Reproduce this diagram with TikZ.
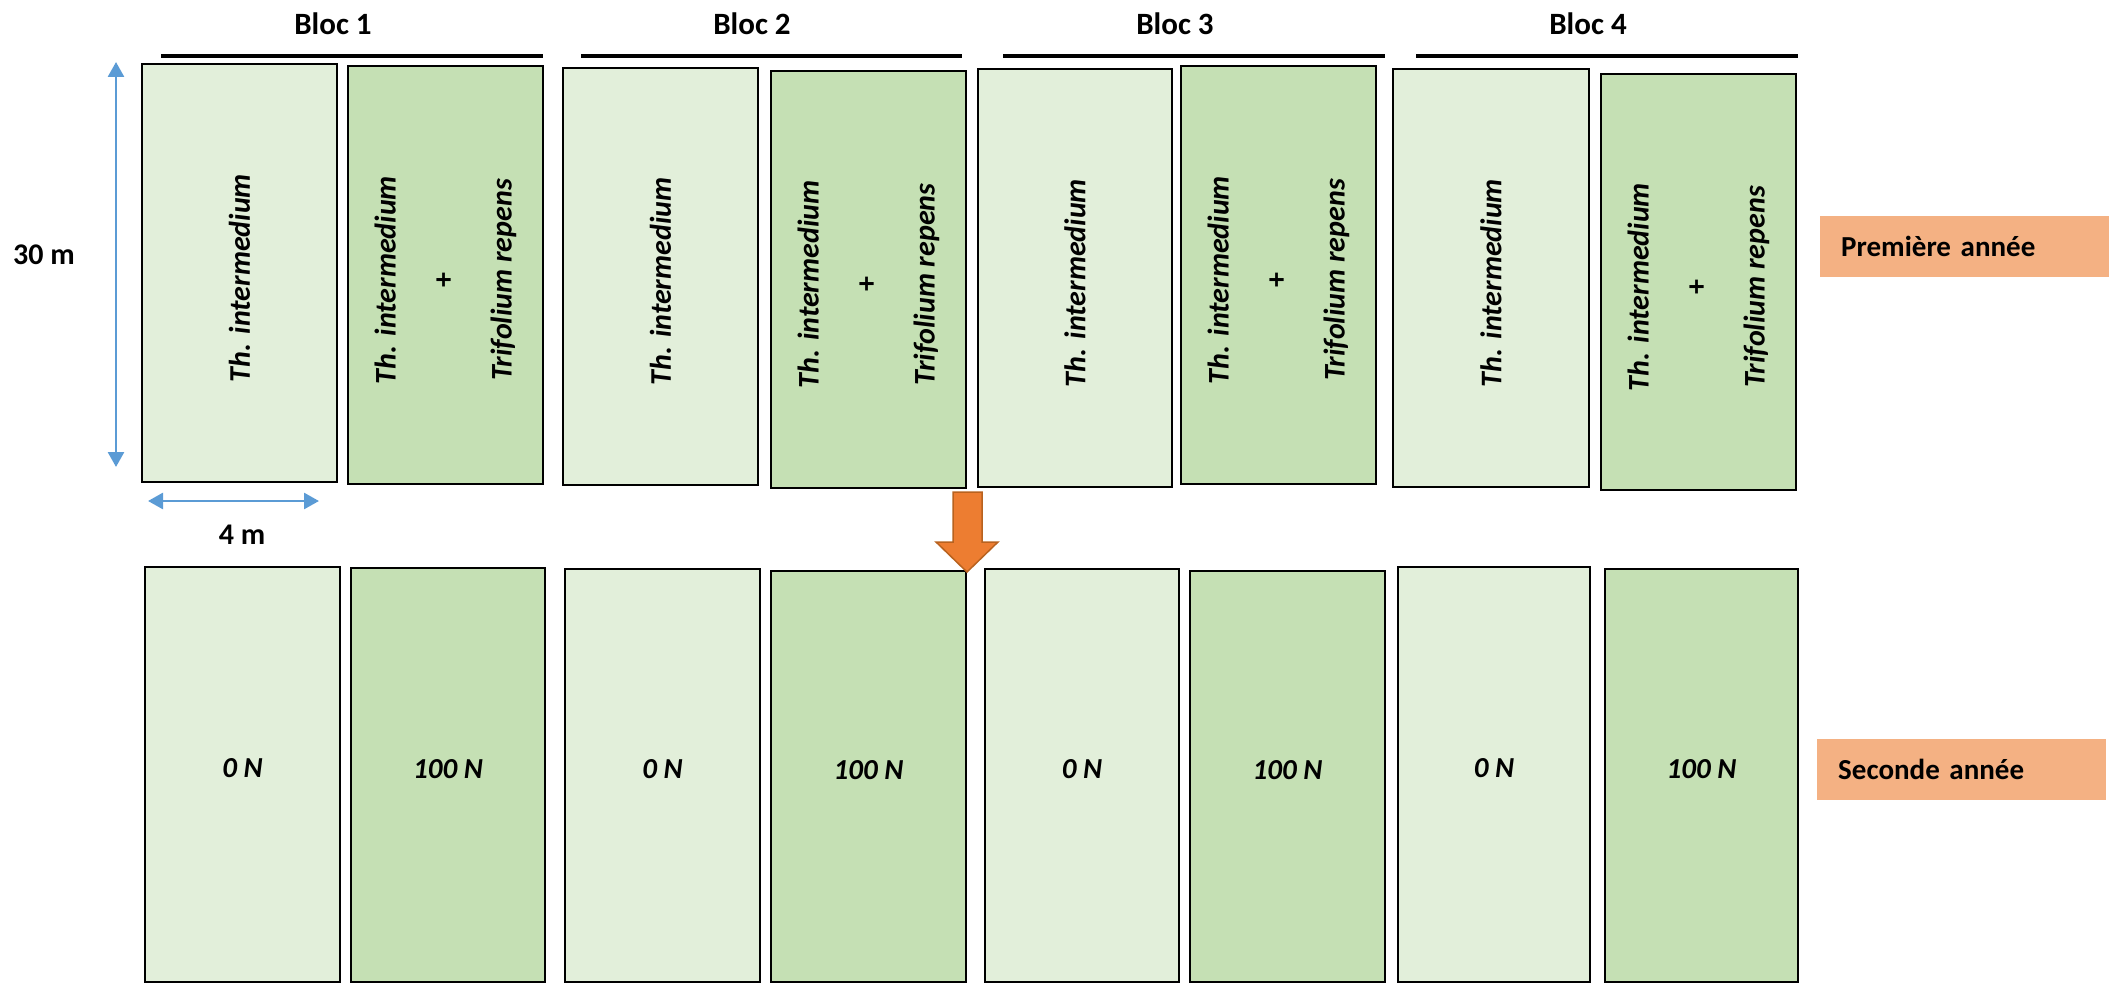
\documentclass[tikz,border=0pt]{standalone}
\usepackage{fontspec}
\setmainfont{Carlito}
\usetikzlibrary{arrows.meta,calc}
\definecolor{lightg}{HTML}{E2EFDA}
\definecolor{darkg}{HTML}{C5E0B4}
\definecolor{salmon}{HTML}{F4B183}
\definecolor{orng}{HTML}{ED7D31}
\definecolor{orngd}{HTML}{B8621F}
\definecolor{blu}{HTML}{5B9BD5}
\newcommand\plotbox[6]{\node[#2, minimum width={(#5-#3)*1pt}, minimum height={(#6-#4)*1pt}] (#1) at ({(#3+#5)/2},{(#4+#6)/2}) {};}
\begin{document}
\begin{tikzpicture}[x=1pt,y=-1pt,
  plotbase/.style={draw=black, line width=2.8pt, inner sep=0pt, outer sep=0pt},
  plotL/.style={plotbase, fill=lightg},
  plotD/.style={plotbase, fill=darkg},
  vlab/.style={rotate=90, align=center, inner sep=0pt, font=\fontsize{30}{58}\selectfont\bfseries\itshape},
  hlab/.style={inner sep=0pt, font=\fontsize{29}{34}\selectfont\bfseries\itshape},
  bloclab/.style={inner sep=0pt, font=\fontsize{31}{36}\selectfont\bfseries},
  dimlab/.style={inner sep=0pt, font=\fontsize{30}{36}\selectfont\bfseries},
  blocline/.style={draw=black, line width=4.5pt},
  dimarrow/.style={draw=blu, line width=2.7pt, {Triangle[length=15pt,width=16pt]}-{Triangle[length=15pt,width=16pt]}},
  yearbox/.style={fill=salmon, anchor=west, minimum width=289pt, minimum height=61pt, inner xsep=21pt, inner ysep=0pt, text width=247pt, align=left, font=\fontsize{29}{34}\selectfont\bfseries}
]
\useasboundingbox (0,0) rectangle (2109,984);

% top row
\plotbox{t1}{plotL}{142}{64}{337}{482}
\plotbox{t2}{plotD}{348}{66}{543}{484}
\plotbox{t3}{plotL}{563}{68}{758}{485}
\plotbox{t4}{plotD}{771}{71}{966}{488}
\plotbox{t5}{plotL}{978}{69}{1172}{487}
\plotbox{t6}{plotD}{1181}{66}{1376}{484}
\plotbox{t7}{plotL}{1393}{69}{1589}{487}
\plotbox{t8}{plotD}{1601}{74}{1796}{490}

% bottom row
\plotbox{b1}{plotL}{145}{567}{340}{982}
\plotbox{b2}{plotD}{351}{568}{545}{982}
\plotbox{b3}{plotL}{565}{569}{760}{982}
\plotbox{b4}{plotD}{771}{571}{966}{982}
\plotbox{b5}{plotL}{985}{569}{1179}{982}
\plotbox{b6}{plotD}{1190}{571}{1385}{982}
\plotbox{b7}{plotL}{1398}{567}{1590}{982}
\plotbox{b8}{plotD}{1605}{569}{1798}{982}

% top row labels
\foreach \i in {1,3,5,7}{
  \node[vlab] (lt\i) at ($(t\i.center)+(0,5)$) {Th. intermedium};
}
\foreach \i in {2,4,6,8}{
  \node[vlab] (lt\i) at ($(t\i.center)+(0,5)$) {Th. intermedium\\{\upshape +}\\Trifolium repens};
}

% bottom row labels
\foreach \i in {1,3,5,7}{
  \node[hlab] (lb\i) at ($(b\i.north)!0.485!(b\i.south)$) {0 N};
}
\foreach \i in {2,4,6,8}{
  \node[hlab] (lb\i) at ($(b\i.north)!0.485!(b\i.south)$) {100 N};
}

% bloc lines and labels
\coordinate (l1a) at (161,56); \coordinate (l1b) at (543,56);
\coordinate (l2a) at (581,56); \coordinate (l2b) at (962,56);
\coordinate (l3a) at (1003,56); \coordinate (l3b) at (1385,56);
\coordinate (l4a) at (1416,56); \coordinate (l4b) at (1798,56);
\draw[blocline] (l1a) -- (l1b);
\draw[blocline] (l2a) -- (l2b);
\draw[blocline] (l3a) -- (l3b);
\draw[blocline] (l4a) -- (l4b);
\node[bloclab] (bl1) at (333,24) {Bloc 1};
\node[bloclab] (bl2) at (752,24) {Bloc 2};
\node[bloclab] (bl3) at (1175,24) {Bloc 3};
\node[bloclab] (bl4) at (1588,24) {Bloc 4};

% dimension arrows
\coordinate (va) at (116,62); \coordinate (vb) at (116,467);
\draw[dimarrow] (va) -- (vb);
\node[dimlab] (d30) at (44,255) {30 m};
\coordinate (ha) at (148,501); \coordinate (hb) at (319,501);
\draw[dimarrow] (ha) -- (hb);
\node[dimlab] (d4) at (242,535) {4 m};

% orange arrow
\draw[fill=orng, draw=orngd, line width=1.5pt, line join=miter]
  (953,492) -- (982,492) -- (982,542) -- (998,542) -- (967,572) -- (936,542) -- (953,542) -- cycle;

% year labels
\node[yearbox] (y1) at (1820,246.5) {Première année};
\node[yearbox] (y2) at (1817,769.5) {Seconde année};
\end{tikzpicture}
\end{document}
